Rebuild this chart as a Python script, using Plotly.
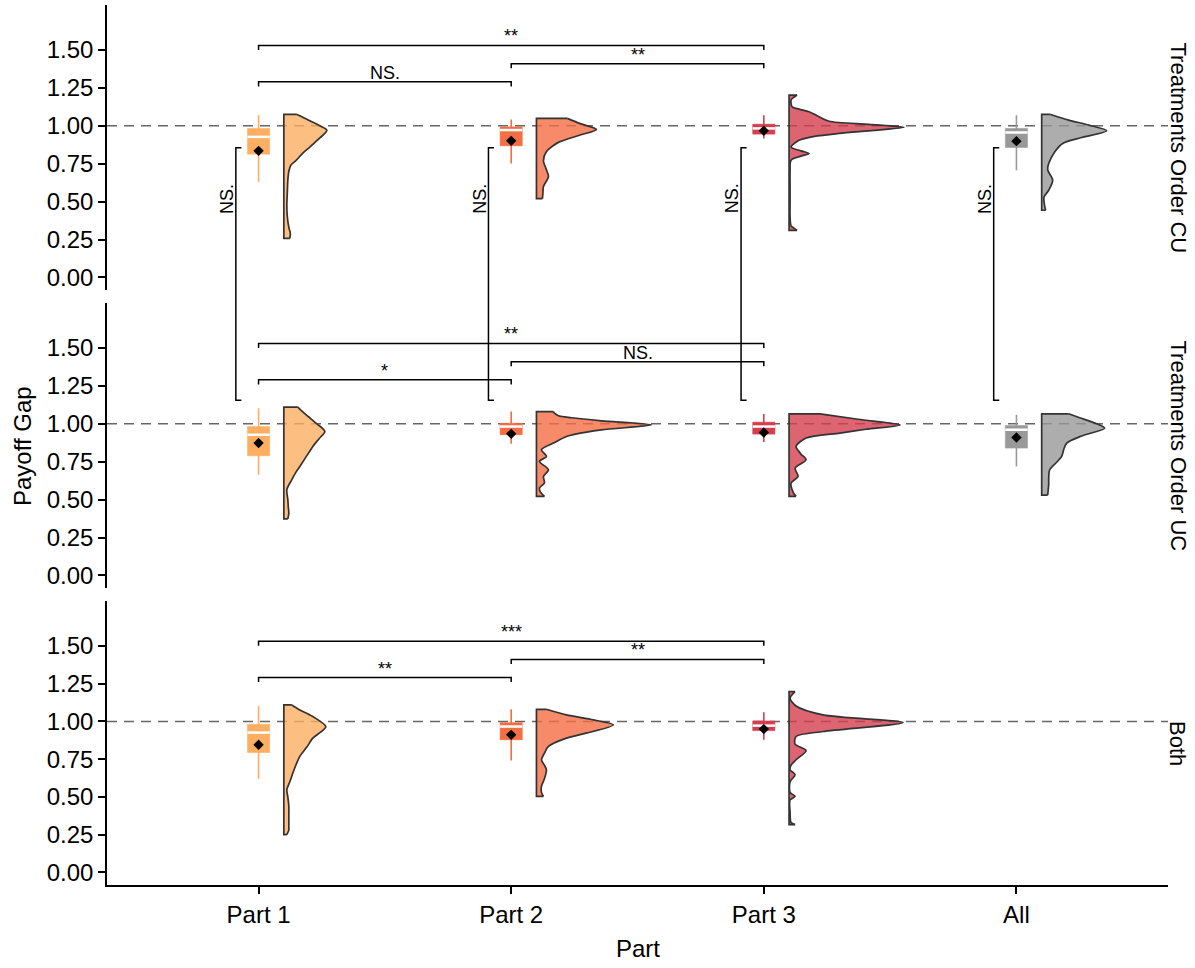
import plotly.graph_objects as go

# ---------------- data ----------------
parts = ["Part 1", "Part 2", "Part 3", "All"]
panels = ["Treatments Order CU", "Treatments Order UC", "Both"]
part_colors = ["#FDAE61", "#F46D43", "#D53E4F", "#999999"]
y_ticks = [0.0, 0.25, 0.5, 0.75, 1.0, 1.25, 1.5]

# box statistics per part: (whisker low, Q1, median, Q3, whisker high, mean)
box_cu = [(0.63, 0.813, 0.927, 0.983, 1.07, 0.835),
          (0.751, 0.868, 0.972, 0.993, 1.042, 0.901),
          (0.917, 0.945, 0.983, 1.011, 1.07, 0.967),
          (0.707, 0.857, 0.956, 0.983, 1.07, 0.899)]
box_uc = [(0.664, 0.789, 0.928, 0.982, 1.103, 0.873),
          (0.868, 0.928, 0.982, 1.004, 1.081, 0.934),
          (0.88, 0.932, 0.982, 1.011, 1.064, 0.943),
          (0.719, 0.84, 0.961, 0.989, 1.059, 0.91)]
box_both = [(0.62, 0.794, 0.926, 0.981, 1.102, 0.845),
            (0.741, 0.878, 0.966, 0.992, 1.08, 0.911),
            (0.878, 0.939, 0.972, 1.003, 1.061, 0.949)]

# half-violin outlines: (value, density) from bottom to top
vio_cu_p1 = [(0.258, 6), (0.29, 6.5), (0.33, 5), (0.40, 3.5), (0.48, 3), (0.56, 3.5), (0.64, 4),
             (0.70, 5), (0.74, 7), (0.77, 12), (0.82, 19), (0.86, 26), (0.92, 36), (0.97, 43),
             (1.00, 36), (1.03, 27), (1.06, 18), (1.075, 13)]
vio_cu_p2 = [(0.52, 6), (0.56, 6.5), (0.60, 7), (0.665, 12), (0.71, 10), (0.77, 7), (0.83, 10),
             (0.87, 17), (0.894, 23), (0.938, 43), (0.976, 60), (1.016, 43), (1.049, 31)]
vio_cu_p3 = [(0.31, 8), (0.325, 5), (0.34, 2), (0.40, 1), (0.5, 1), (0.6, 1), (0.7, 1), (0.773, 2),
             (0.80, 12), (0.817, 20), (0.835, 12), (0.86, 2), (0.905, 10), (0.93, 25), (0.95, 50),
             (0.97, 85), (0.99, 115), (1.01, 80), (1.03, 40), (1.06, 30), (1.093, 20), (1.11, 10),
             (1.126, 3), (1.17, 2), (1.19, 5), (1.203, 8)]
vio_cu_all = [(0.443, 4), (0.47, 3), (0.53, 2.3), (0.575, 7), (0.641, 11), (0.709, 6), (0.751, 7),
              (0.828, 13), (0.884, 21), (0.923, 40), (0.967, 65), (1.005, 47), (1.038, 27), (1.075, 9)]

vio_uc_p1 = [(0.373, 4), (0.41, 5), (0.45, 4.5), (0.5, 4), (0.566, 3), (0.632, 8), (0.68, 12),
             (0.719, 16), (0.79, 23), (0.851, 29), (0.90, 35), (0.95, 41), (1.00, 33), (1.05, 24),
             (1.09, 17), (1.11, 14)]
vio_uc_p2 = [(0.522, 8), (0.55, 4), (0.577, 3), (0.61, 8), (0.653, 7), (0.697, 12), (0.752, 3),
             (0.785, 10), (0.829, 5), (0.873, 17), (0.916, 30), (0.93, 38), (0.96, 65), (0.993, 115),
             (1.02, 65), (1.04, 35), (1.053, 22), (1.07, 18), (1.081, 17)]
vio_uc_p3 = [(0.522, 7), (0.55, 4), (0.61, 2), (0.653, 9), (0.708, 6), (0.763, 17), (0.80, 12),
             (0.851, 7), (0.906, 17), (0.939, 51), (0.964, 77), (0.993, 111), (1.03, 69), (1.066, 31)]
vio_uc_all = [(0.53, 6), (0.60, 7), (0.632, 7), (0.697, 8), (0.74, 14), (0.785, 20), (0.83, 22),
              (0.873, 25), (0.92, 40), (0.971, 63), (1.00, 55), (1.04, 38), (1.066, 27)]

vio_both_p1 = [(0.251, 3), (0.28, 5), (0.306, 5), (0.37, 5), (0.438, 5), (0.5, 4), (0.548, 3),
               (0.60, 6), (0.658, 9), (0.71, 12), (0.768, 16), (0.83, 23), (0.889, 29), (0.93, 37),
               (0.966, 42), (1.032, 29), (1.076, 16), (1.109, 8)]
vio_both_p2 = [(0.504, 7), (0.53, 5), (0.57, 5), (0.62, 8), (0.68, 10), (0.71, 8), (0.746, 5),
               (0.79, 8), (0.834, 12), (0.889, 30), (0.922, 50), (0.977, 77), (1.01, 57), (1.043, 30),
               (1.08, 10)]
vio_both_p3 = [(0.317, 6), (0.33, 2), (0.40, 1), (0.48, 1), (0.504, 6), (0.53, 1), (0.60, 1),
               (0.647, 6), (0.68, 1), (0.71, 2), (0.746, 7), (0.807, 17), (0.85, 6), (0.90, 7),
               (0.933, 34), (0.992, 114), (1.043, 34), (1.102, 7), (1.154, 1), (1.197, 6)]

vio_cu = [vio_cu_p1, vio_cu_p2, vio_cu_p3, vio_cu_all]
vio_uc = [vio_uc_p1, vio_uc_p2, vio_uc_p3, vio_uc_all]
vio_both = [vio_both_p1, vio_both_p2, vio_both_p3]

# pairwise comparisons within each panel
sig_pairs = [("Part 1", "Part 3"), ("Part 2", "Part 3"), ("Part 1", "Part 2")]
sig_cu = ["**", "**", "NS."]
sig_uc = ["**", "NS.", "*"]
sig_both = ["***", "**", "**"]
# CU vs UC comparison per part
cross_sig = ["NS.", "NS.", "NS.", "NS."]

# ---------------- styling / layout constants ----------------
W, H = 1195, 968
FONT = "Liberation Sans, Arial, sans-serif"
X_RANGE = [0.4, 4.6]
Y_RANGE = [-0.083, 1.797]
X_DOM = [107 / W, 1168 / W]
panel_px = [(5, 290), (303, 588), (601, 885)]
Y_DOMS = [[1 - b / H, 1 - t / H] for t, b in panel_px]
VIOLIN_SCALE = 1 / 252.6
VIOLIN_OFFSET = 0.1
BOX_HALF = 0.044
OUTLINE = "#333333"
SIG_LEVELS = [1.53, 1.41, 1.29]
SIG_TICK = 0.03
BR_OFF = -0.09
BR_TICK = 0.022
BR_TOP = 0.855   # in top panel
BR_BOT = 1.155   # in middle panel
BR_LABEL_X = -0.127
BR_LABEL_Y = 0.52
TICK_SIZE = 24


def rgba(hx, a):
    hx = hx.lstrip("#")
    r, g, b = int(hx[0:2], 16), int(hx[2:4], 16), int(hx[4:6], 16)
    return f"rgba({r},{g},{b},{a})"


def to_paper(v, dom):
    return dom[0] + (v - Y_RANGE[0]) / (Y_RANGE[1] - Y_RANGE[0]) * (dom[1] - dom[0])


fig = go.Figure()
suffixes = ["", "2", "3"]
boxes_all = [box_cu, box_uc, box_both]
vios_all = [vio_cu, vio_uc, vio_both]
sigs_all = [sig_cu, sig_uc, sig_both]

for pi, suf in enumerate(suffixes):
    xa, ya = "x" + suf, "y" + suf
    for gi, (stats, vio) in enumerate(zip(boxes_all[pi], vios_all[pi])):
        pos = gi + 1
        col = part_colors[gi]
        # half violin
        x0 = pos + VIOLIN_OFFSET
        ys = [p[0] for p in vio]
        ws = [x0 + p[1] * VIOLIN_SCALE for p in vio]
        fig.add_trace(go.Scatter(
            x=[ws[0], x0, x0, ws[-1]], y=[ys[0], ys[0], ys[-1], ys[-1]],
            mode="lines", line=dict(color=OUTLINE, width=1.7),
            xaxis=xa, yaxis=ya, hoverinfo="skip", showlegend=False))
        fig.add_trace(go.Scatter(
            x=ws, y=ys, mode="lines",
            line=dict(color=OUTLINE, width=1.7, shape="spline", smoothing=0.8),
            fill="tonextx", fillcolor=rgba(col, 0.8),
            xaxis=xa, yaxis=ya, hoverinfo="skip", showlegend=False))
        lo, q1, med, q3, hi, mean = stats
        # whisker
        fig.add_trace(go.Scatter(
            x=[pos, pos], y=[lo, hi], mode="lines", line=dict(color=col, width=1.6),
            xaxis=xa, yaxis=ya, hoverinfo="skip", showlegend=False))
        # box
        fig.add_trace(go.Scatter(
            x=[pos - BOX_HALF, pos + BOX_HALF, pos + BOX_HALF, pos - BOX_HALF, pos - BOX_HALF],
            y=[q1, q1, q3, q3, q1], mode="lines", line=dict(color=col, width=0.5),
            fill="toself", fillcolor=col,
            xaxis=xa, yaxis=ya, hoverinfo="skip", showlegend=False))
        # median
        fig.add_trace(go.Scatter(
            x=[pos - BOX_HALF, pos + BOX_HALF], y=[med, med], mode="lines",
            line=dict(color="white", width=2.5),
            xaxis=xa, yaxis=ya, hoverinfo="skip", showlegend=False))
        # mean
        fig.add_trace(go.Scatter(
            x=[pos], y=[mean], mode="markers",
            marker=dict(symbol="diamond", size=8, color="black"),
            xaxis=xa, yaxis=ya, hoverinfo="skip", showlegend=False))

    # reference line at 1
    fig.add_shape(type="line", xref=xa + " domain", yref=ya, x0=0, x1=1, y0=1, y1=1,
                  line=dict(color="#666666", width=1.5, dash="10px,7px"), layer="below")

    # pairwise brackets
    for (a, b), lab, lev in zip(sig_pairs, sigs_all[pi], SIG_LEVELS):
        xa_, xb_ = parts.index(a) + 1, parts.index(b) + 1
        fig.add_shape(type="path", xref=xa, yref=ya,
                      path=f"M {xa_},{lev - SIG_TICK} L {xa_},{lev} L {xb_},{lev} L {xb_},{lev - SIG_TICK}",
                      line=dict(color="black", width=1.5))
        fig.add_annotation(x=(xa_ + xb_) / 2, y=lev, xref=xa, yref=ya, text=lab,
                           showarrow=False, yanchor="bottom", yshift=-3,
                           font=dict(family=FONT, size=18, color="black"))

    # strip label
    fig.add_annotation(x=1178 / W, y=sum(Y_DOMS[pi]) / 2, xref="paper", yref="paper",
                       text=panels[pi], textangle=90, showarrow=False,
                       xanchor="center", yanchor="middle",
                       font=dict(family=FONT, size=22, color="black"))

# CU vs UC brackets spanning the first two panels
for gi, lab in enumerate(cross_sig):
    pos = gi + 1
    xl = pos + BR_OFF
    yt = to_paper(BR_TOP, Y_DOMS[0])
    yb = to_paper(BR_BOT, Y_DOMS[1])
    fig.add_shape(type="path", xref="x", yref="paper",
                  path=f"M {xl + BR_TICK},{yt} L {xl},{yt} L {xl},{yb} L {xl + BR_TICK},{yb}",
                  line=dict(color="black", width=1.5))
    fig.add_annotation(x=pos + BR_LABEL_X, y=BR_LABEL_Y, xref="x", yref="y", text=lab,
                       textangle=-90, showarrow=False, xanchor="center", yanchor="middle",
                       font=dict(family=FONT, size=18, color="black"))

axis_common = dict(showgrid=False, zeroline=False)
layout = dict(
    width=W, height=H, margin=dict(l=0, r=0, t=0, b=0),
    paper_bgcolor="white", plot_bgcolor="white", showlegend=False,
    font=dict(family=FONT, color="black"),
)
for pi, suf in enumerate(suffixes):
    bottom = pi == 2
    layout["xaxis" + suf] = dict(
        **axis_common, domain=X_DOM, range=X_RANGE, anchor="y" + suf,
        showline=bottom, linecolor="black", linewidth=1.5,
        ticks="outside" if bottom else "", ticklen=7, tickwidth=1.5, tickcolor="black",
        tickvals=[1, 2, 3, 4], ticktext=parts, showticklabels=bottom,
        tickfont=dict(family=FONT, size=TICK_SIZE, color="black"))
    layout["yaxis" + suf] = dict(
        **axis_common, domain=Y_DOMS[pi], range=Y_RANGE, anchor="x" + suf,
        showline=True, linecolor="black", linewidth=1.5,
        ticks="outside", ticklen=7, tickwidth=1.5, tickcolor="black",
        tickvals=y_ticks, ticktext=[f"{v:.2f}" for v in y_ticks],
        tickfont=dict(family=FONT, size=TICK_SIZE, color="black"))
fig.update_layout(**layout)

fig.add_annotation(x=sum(X_DOM) / 2, y=1 - 948 / H, xref="paper", yref="paper", text="Part",
                   showarrow=False, xanchor="center", yanchor="middle",
                   font=dict(family=FONT, size=24, color="black"))
fig.add_annotation(x=22 / W, y=1 - 446 / H, xref="paper", yref="paper", text="Payoff Gap",
                   textangle=-90, showarrow=False, xanchor="center", yanchor="middle",
                   font=dict(family=FONT, size=24, color="black"))

fig.write_html("out.html")
